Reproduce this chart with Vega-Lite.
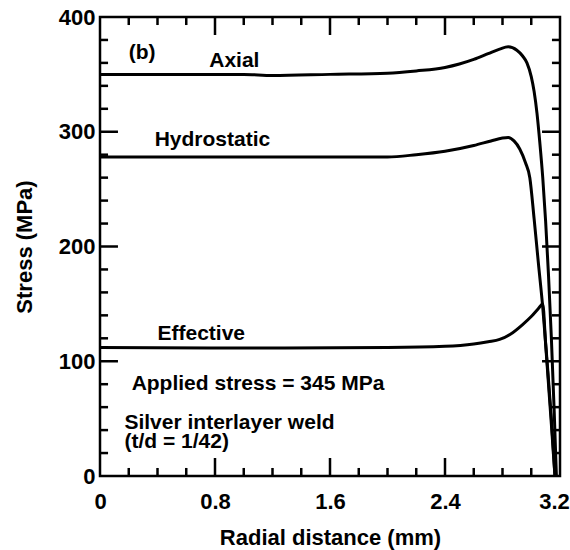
{
  "$schema": "https://vega.github.io/schema/vega-lite/v6.json",
  "width": 460,
  "height": 459,
  "autosize": "none",
  "padding": {"left": 100, "top": 17, "right": 10, "bottom": 74},
  "background": "white",
  "config": {
    "view": {"stroke": "black", "strokeWidth": 2.5},
    "font": "Liberation Sans"
  },
  "datasets": {
    "curves": [
      {"series": "Axial", "x": 0, "y": 350}, {"series": "Axial", "x": 0.5, "y": 350}, {"series": "Axial", "x": 1.0, "y": 350}, {"series": "Axial", "x": 1.2, "y": 349}, {"series": "Axial", "x": 1.6, "y": 350}, {"series": "Axial", "x": 2.0, "y": 351}, {"series": "Axial", "x": 2.2, "y": 353}, {"series": "Axial", "x": 2.4, "y": 356}, {"series": "Axial", "x": 2.5, "y": 359}, {"series": "Axial", "x": 2.6, "y": 363}, {"series": "Axial", "x": 2.7, "y": 368}, {"series": "Axial", "x": 2.78, "y": 372}, {"series": "Axial", "x": 2.84, "y": 374}, {"series": "Axial", "x": 2.9, "y": 371}, {"series": "Axial", "x": 2.94, "y": 366}, {"series": "Axial", "x": 2.97, "y": 360}, {"series": "Axial", "x": 3.0, "y": 348}, {"series": "Axial", "x": 3.02, "y": 335}, {"series": "Axial", "x": 3.04, "y": 316}, {"series": "Axial", "x": 3.06, "y": 290}, {"series": "Axial", "x": 3.08, "y": 260}, {"series": "Axial", "x": 3.1, "y": 222}, {"series": "Axial", "x": 3.12, "y": 175}, {"series": "Axial", "x": 3.14, "y": 120}, {"series": "Axial", "x": 3.16, "y": 55}, {"series": "Axial", "x": 3.175, "y": 0},
      {"series": "Hydrostatic", "x": 0, "y": 278}, {"series": "Hydrostatic", "x": 1.0, "y": 278}, {"series": "Hydrostatic", "x": 2.0, "y": 278}, {"series": "Hydrostatic", "x": 2.2, "y": 280}, {"series": "Hydrostatic", "x": 2.4, "y": 283}, {"series": "Hydrostatic", "x": 2.6, "y": 288}, {"series": "Hydrostatic", "x": 2.72, "y": 292}, {"series": "Hydrostatic", "x": 2.8, "y": 294.5}, {"series": "Hydrostatic", "x": 2.84, "y": 295}, {"series": "Hydrostatic", "x": 2.88, "y": 292}, {"series": "Hydrostatic", "x": 2.92, "y": 285}, {"series": "Hydrostatic", "x": 2.96, "y": 273}, {"series": "Hydrostatic", "x": 2.99, "y": 260}, {"series": "Hydrostatic", "x": 3.02, "y": 224}, {"series": "Hydrostatic", "x": 3.05, "y": 185}, {"series": "Hydrostatic", "x": 3.08, "y": 147}, {"series": "Hydrostatic", "x": 3.11, "y": 100}, {"series": "Hydrostatic", "x": 3.14, "y": 50}, {"series": "Hydrostatic", "x": 3.165, "y": 0},
      {"series": "Effective", "x": 0, "y": 112}, {"series": "Effective", "x": 1.0, "y": 111.5}, {"series": "Effective", "x": 2.0, "y": 112}, {"series": "Effective", "x": 2.4, "y": 113}, {"series": "Effective", "x": 2.6, "y": 115}, {"series": "Effective", "x": 2.7, "y": 117}, {"series": "Effective", "x": 2.78, "y": 119}, {"series": "Effective", "x": 2.86, "y": 124}, {"series": "Effective", "x": 2.94, "y": 132}, {"series": "Effective", "x": 3.0, "y": 139}, {"series": "Effective", "x": 3.05, "y": 146}, {"series": "Effective", "x": 3.08, "y": 150}, {"series": "Effective", "x": 3.1, "y": 115}, {"series": "Effective", "x": 3.12, "y": 80}, {"series": "Effective", "x": 3.14, "y": 45}, {"series": "Effective", "x": 3.165, "y": 0}
    ],
    "names": [
      {"text": "(b)", "x": 0.2, "y": 369},
      {"text": "Axial", "x": 0.76, "y": 362},
      {"text": "Hydrostatic", "x": 0.38, "y": 293},
      {"text": "Effective", "x": 0.4, "y": 124},
      {"text": "Applied stress = 345 MPa", "x": 0.22, "y": 80},
      {"text": "Silver interlayer weld", "x": 0.17, "y": 46},
      {"text": "(t/d = 1/42)", "x": 0.17, "y": 29.5}
    ],
    "xmaj": [{"v": 0.8}, {"v": 1.6}, {"v": 2.4}],
    "xmin": [{"v": 0.2}, {"v": 0.4}, {"v": 0.6}, {"v": 1.0}, {"v": 1.2}, {"v": 1.4}, {"v": 1.8}, {"v": 2.0}, {"v": 2.2}, {"v": 2.6}, {"v": 2.8}, {"v": 3.0}],
    "ymaj": [{"v": 100}, {"v": 200}, {"v": 300}],
    "ymin": [{"v": 20}, {"v": 40}, {"v": 60}, {"v": 80}, {"v": 120}, {"v": 140}, {"v": 160}, {"v": 180}, {"v": 220}, {"v": 240}, {"v": 260}, {"v": 280}, {"v": 320}, {"v": 340}, {"v": 360}, {"v": 380}]
  },
  "resolve": {"axis": {"x": "independent", "y": "independent"}},
  "layer": [
    {
      "data": {"name": "curves"},
      "mark": {"type": "line", "color": "black", "strokeWidth": 3, "interpolate": "monotone"},
      "encoding": {
        "x": {"field": "x", "type": "quantitative", "scale": {"domain": [0, 3.2], "nice": false},
          "axis": {"orient": "bottom", "title": "Radial distance (mm)", "domain": false, "ticks": false, "grid": false,
            "values": [0, 0.8, 1.6, 2.4, 3.2],
            "labelExpr": "datum.value == 0 ? '0' : format(datum.value, '.1f')",
            "labelOffset": {"condition": {"test": "datum.value > 3.1", "value": -6}, "value": 0},
            "labelFontSize": 22, "labelFontWeight": "bold", "labelPadding": 15, "labelColor": "black", "labelFlush": false, "labelOverlap": false,
            "titleFontSize": 22, "titleFontWeight": "bold", "titleY": 61, "titleBaseline": "middle", "titleColor": "black"}},
        "y": {"field": "y", "type": "quantitative", "scale": {"domain": [0, 400], "nice": false},
          "axis": {"orient": "left", "title": "Stress (MPa)", "domain": false, "ticks": false, "grid": false,
            "values": [0, 100, 200, 300, 400],
            "labelFontSize": 22, "labelFontWeight": "bold", "labelPadding": 5, "labelColor": "black", "labelFlush": false, "labelOverlap": false,
            "titleFontSize": 22, "titleFontWeight": "bold", "titleX": -76, "titleY": 229.5, "titleBaseline": "middle", "titleAngle": -90, "titleColor": "black"}},
        "detail": {"field": "series"}
      }
    },
    {
      "data": {"name": "names"},
      "mark": {"type": "text", "align": "left", "baseline": "middle", "fontSize": 21, "fontWeight": "bold", "color": "black", "font": "Liberation Sans"},
      "encoding": {
        "x": {"field": "x", "type": "quantitative", "axis": null},
        "y": {"field": "y", "type": "quantitative", "axis": null},
        "text": {"field": "text"}
      }
    },
    {
      "data": {"name": "xmaj"},
      "mark": {"type": "rule", "color": "black", "strokeWidth": 2.5},
      "encoding": {"x": {"field": "v", "type": "quantitative", "axis": null}, "y": {"datum": 0, "type": "quantitative", "axis": null}, "y2": {"datum": 15.7}}
    },
    {
      "data": {"name": "xmaj"},
      "mark": {"type": "rule", "color": "black", "strokeWidth": 2.5},
      "encoding": {"x": {"field": "v", "type": "quantitative", "axis": null}, "y": {"datum": 400, "type": "quantitative", "axis": null}, "y2": {"datum": 384.3}}
    },
    {
      "data": {"name": "xmin"},
      "mark": {"type": "rule", "color": "black", "strokeWidth": 2.5},
      "encoding": {"x": {"field": "v", "type": "quantitative", "axis": null}, "y": {"datum": 0, "type": "quantitative", "axis": null}, "y2": {"datum": 7}}
    },
    {
      "data": {"name": "xmin"},
      "mark": {"type": "rule", "color": "black", "strokeWidth": 2.5},
      "encoding": {"x": {"field": "v", "type": "quantitative", "axis": null}, "y": {"datum": 400, "type": "quantitative", "axis": null}, "y2": {"datum": 393}}
    },
    {
      "data": {"name": "ymaj"},
      "mark": {"type": "rule", "color": "black", "strokeWidth": 2.5},
      "encoding": {"y": {"field": "v", "type": "quantitative", "axis": null}, "x": {"datum": 0, "type": "quantitative", "axis": null}, "x2": {"datum": 0.125}}
    },
    {
      "data": {"name": "ymaj"},
      "mark": {"type": "rule", "color": "black", "strokeWidth": 2.5},
      "encoding": {"y": {"field": "v", "type": "quantitative", "axis": null}, "x": {"datum": 3.2, "type": "quantitative", "axis": null}, "x2": {"datum": 3.075}}
    },
    {
      "data": {"name": "ymin"},
      "mark": {"type": "rule", "color": "black", "strokeWidth": 2.5},
      "encoding": {"y": {"field": "v", "type": "quantitative", "axis": null}, "x": {"datum": 0, "type": "quantitative", "axis": null}, "x2": {"datum": 0.056}}
    },
    {
      "data": {"name": "ymin"},
      "mark": {"type": "rule", "color": "black", "strokeWidth": 2.5},
      "encoding": {"y": {"field": "v", "type": "quantitative", "axis": null}, "x": {"datum": 3.2, "type": "quantitative", "axis": null}, "x2": {"datum": 3.144}}
    }
  ]
}
